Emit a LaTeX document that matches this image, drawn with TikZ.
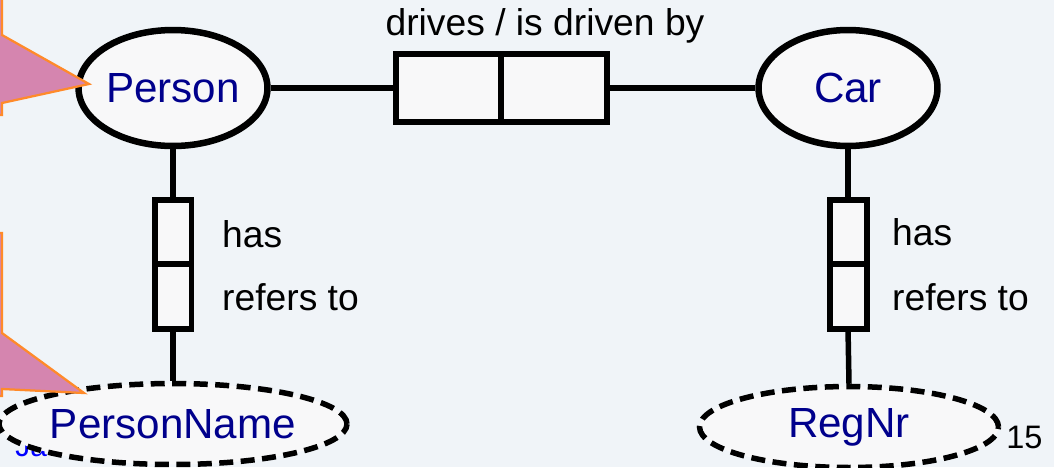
\documentclass[tikz,border=0pt]{standalone}
\usepackage{fontspec}
\setmainfont{Liberation Sans}
\usetikzlibrary{positioning,shapes.geometric}
\definecolor{slidebg}{HTML}{F0F4F8}
\definecolor{entblue}{HTML}{00008C}
\definecolor{calloutpink}{HTML}{D585AF}
\definecolor{calloutline}{HTML}{FF8A2A}
\definecolor{shapefill}{HTML}{F8F8F9}

\begin{document}
\begin{tikzpicture}[x=0.02cm,y=-0.02cm,node distance=0pt,
          ent/.style={ellipse,draw,line width=0.13cm,fill=shapefill,minimum width=3.58cm,
            minimum height=2.32cm,inner sep=0pt,text=entblue,font=\fontsize{24}{28}\selectfont},
          val/.style={ellipse,draw,dash pattern=on 0.28cm off 0.15cm,line width=0.11cm,fill=shapefill,
            minimum width=5.98cm,minimum height=1.62cm,inner sep=0pt,text=entblue,font=\fontsize{24}{28}\selectfont},
          rol/.style={rectangle,draw,line width=0.12cm,fill=shapefill,outer sep=0pt,inner sep=0pt},
          lbl/.style={anchor=base west,font=\fontsize{21.2}{25}\selectfont},
          conn/.style={line width=0.11cm},
          callout/.style={fill=calloutpink,draw=calloutline,line width=0.045cm}]
        \fill[slidebg] (0,0) rectangle (1054,467);
        \useasboundingbox (0,0) rectangle (1054,467);
        \clip (0,0) rectangle (1054,467);
        % footer
        \node[anchor=base west,text=blue,inner sep=0pt,font=\fontsize{17}{20}\selectfont] (ja) at (15,456) {Ja};
        \node[anchor=base west,inner sep=0pt,font=\fontsize{18.5}{22}\selectfont] (pg) at (1006,448) {15};
        % entity types and value types
        \node[ent] (person) at (173,88) {Person};
        \node[ent] (car) at (848,88) {Car};
        \node[val] (pname) at (173,424) {PersonName};
        \node[val] (regnr) at (849,427) {RegNr};
        % fact types
        \node[rol,minimum width=2.12cm,minimum height=1.36cm] (drA) at (448.5,88) {};
        \node[rol,minimum width=2.12cm,minimum height=1.36cm,right=of drA] (drB) {};
        \node[rol,minimum width=0.74cm,minimum height=1.29cm] (phA) at (173,232) {};
        \node[rol,minimum width=0.74cm,minimum height=1.29cm,below=of phA] (phB) {};
        \node[rol,minimum width=0.74cm,minimum height=1.29cm] (chA) at (848,232) {};
        \node[rol,minimum width=0.74cm,minimum height=1.29cm,below=of chA] (chB) {};
        \draw[line width=0.08cm] (drA.north east) -- (drA.south east);
        \draw[conn] (person.east) -- (drA.west);
        \draw[conn] (drB.east) -- (car.west);
        \draw[conn] (person.south) -- (phA.north);
        \draw[conn] (phB.south) -- (pname.north);
        \draw[conn] (car.south) -- (chA.north);
        \draw[conn] (chB.south) -- (regnr.north);
        % readings
        \node[anchor=base,font=\fontsize{21.2}{25}\selectfont] (drv) at (545,35) {drives / is driven by};
        \node[lbl] (phas) at (216,247) {has};
        \node[lbl] (pref) at (216,310) {refers to};
        \node[lbl] (chas) at (886,245) {has};
        \node[lbl] (cref) at (886,310) {refers to};
        % callouts at the left edge
        \draw[callout] (-20,-20) -- (2,-20) -- (2,35) -- (89,84) -- (2,103) -- (2,115) -- (-20,115) -- cycle;
        \draw[callout] (-20,233) -- (2,233) -- (2,333) -- (84,393) -- (2,389) -- (2,396) -- (-20,396) -- cycle;
      \end{tikzpicture}
\end{document}
